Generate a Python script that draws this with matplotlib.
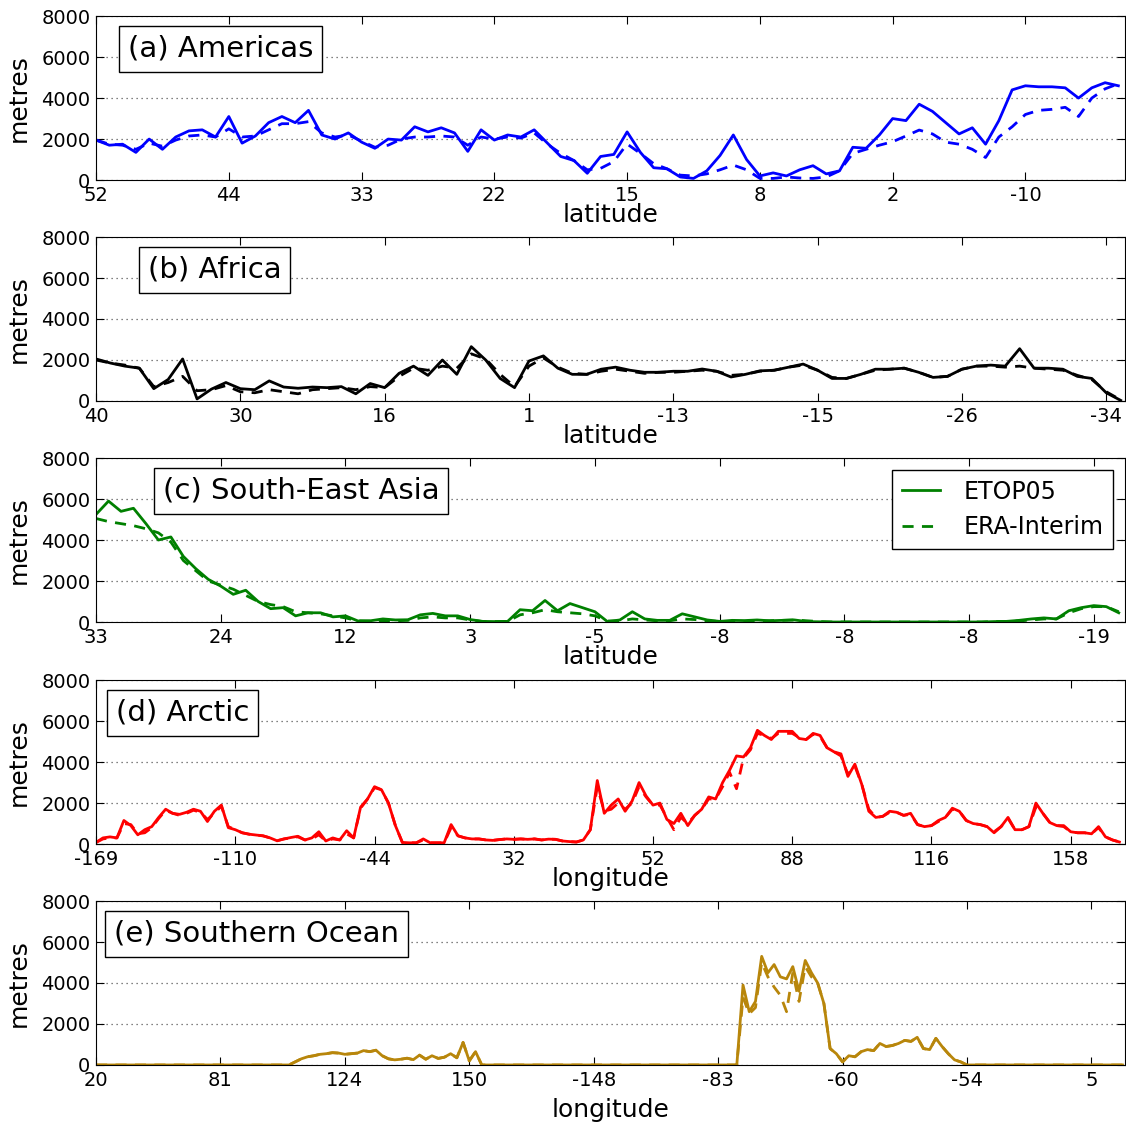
import numpy as np
import matplotlib
matplotlib.use("Agg")
import matplotlib.pyplot as plt

# ---- data: elevation along each transect (metres), sampled uniformly ----
# x axis is distance along transect in "tick units" (one tick label per unit)

# (a) Americas, step 0.1
a_labels = ["52", "44", "33", "22", "15", "8", "2", "-10"]
a_etopo = [1950, 1700, 1750, 1350, 2000, 1500, 2100, 2400, 2450, 2100, 3100, 1800, 2150, 2800, 3100, 2800,
           3400, 2200, 2000, 2300, 1850, 1550, 2000, 1950, 2600, 2350, 2550, 2300, 1400, 2450, 1950, 2200,
           2100, 2450, 1800, 1150, 950, 330,
           1150, 1250, 2350, 1350, 600, 550, 150, 80, 450, 1200, 2200, 1000, 200, 350, 200, 500, 700, 300,
           450, 1600, 1550, 2200, 3000, 2900, 3700, 3350, 2800, 2250, 2550, 1750, 2900, 4400, 4600, 4550,
           4550, 4500, 4000, 4500, 4750, 4600]
a_era = [1950, 1750, 1700, 1500, 1800, 1650, 1950, 2150, 2200, 2100, 2500, 2100, 2150, 2450, 2750, 2750,
         2850, 2300, 2100, 2200, 1900, 1600, 1700, 2000, 2100, 2100, 2150, 2100, 1700, 2100, 2000, 2100,
         2050, 2300, 1750, 1300, 950, 500,
         570, 900, 1760, 1300, 800, 550, 240, 200, 300, 500, 730, 500, 80, 80, 150, 100, 80, 150,
         450, 1300, 1500, 1700, 1870, 2150, 2440, 2250, 1850, 1750, 1500, 1100, 2100, 2600, 3200, 3400,
         3450, 3550, 3100, 4000, 4450, 4700]

# (b) Africa, step 0.1
b_labels = ["40", "30", "16", "1", "-13", "-15", "-26", "-34"]
b_etopo = [2050, 1850, 1700, 1600, 600, 1050, 2050, 100, 580, 900, 600, 550, 980, 680, 620, 680,
           650, 700, 350, 850, 650, 1350, 1700, 1250, 2000, 1300, 2650, 2000, 1100, 650, 1950, 2200,
           1600, 1300, 1300, 1550, 1650, 1500, 1400, 1400, 1450, 1450, 1560, 1450, 1170, 1300, 1470, 1500,
           1650, 1800, 1500, 1100, 1100, 1300, 1550, 1550, 1600, 1400, 1150, 1200, 1550, 1700, 1750, 1700,
           2550, 1600, 1600, 1550, 1200, 1100, 400, 30]
b_era = [2000, 1850, 1750, 1600, 700, 900, 1200, 500, 550, 750, 450, 400, 550, 450, 350, 550,
         600, 650, 550, 700, 650, 1200, 1600, 1500, 1700, 1600, 2300, 2050, 1300, 700, 1700, 2100,
         1650, 1350, 1300, 1450, 1550, 1450, 1350, 1400, 1400, 1450, 1500, 1450, 1250, 1300, 1450, 1500,
         1650, 1750, 1500, 1150, 1100, 1300, 1500, 1550, 1600, 1400, 1150, 1200, 1550, 1700, 1700, 1650,
         1700, 1600, 1550, 1500, 1250, 1050, 450, 50]

# (c) South-East Asia, step 0.1
c_labels = ["33", "24", "12", "3", "-5", "-8", "-8", "-8", "-19"]
c_etopo = [5250, 5900, 5400, 5550, 4800, 4000, 4150, 3200, 2600, 2080, 1750, 1350, 1550, 1000, 650, 700,
           300, 450, 450, 250, 300, 50, 60, 150, 100, 110, 350, 420, 300, 300, 120, 30, 20, 30, 600, 550,
           1050, 550, 900, 700, 500,
           20, 100, 500, 150, 80, 80, 400, 250, 100, 30, 80, 70, 100, 60, 80, 100, 20, 10,
           0, 0, 0, 0, 0, 0, 0, 0, 0, 0, 0, 0, 0,
           20, 30, 80, 150, 200, 150, 550, 700, 800, 750, 450]
c_era = [5050, 4900, 4800, 4700, 4550, 4350, 3900, 3000, 2500, 2000, 1800, 1600, 1300, 1000, 850, 750,
         500, 450, 400, 300, 200, 60, 40, 60, 60, 80, 200, 250, 200, 200, 100, 20, 20, 30, 350, 450,
         600, 500, 450, 400, 300,
         50, 50, 150, 100, 60, 60, 150, 120, 50, 30, 20, 20, 40, 60, 80, 100, 60, 20,
         0, 0, 0, 0, 0, 0, 0, 0, 0, 0, 0, 0, 0,
         20, 30, 50, 100, 150, 150, 450, 650, 750, 750, 500]

# (d) Arctic, step 0.05
d_labels = ["-169", "-110", "-44", "32", "52", "88", "116", "158"]
d_etopo = [80, 300, 350, 300, 1150, 900, 450, 700, 850, 1300, 1700, 1500, 1450, 1550, 1700, 1600,
           1100, 1600, 1900, 800, 700, 550, 480, 440, 400, 300, 160, 250, 320, 380, 200, 300,
           600, 150, 300, 200, 650, 300, 1800, 2200, 2800, 2650, 2000, 900, 80, 60, 60, 250,
           60, 60, 60, 950, 400, 300, 250, 250, 200, 180, 220, 250, 230, 250, 230, 250, 200, 240,
           230, 150, 120, 100, 200,
           700, 3100, 1500, 1900, 2200, 1600, 2100, 3000, 2350, 1900, 2000, 1200, 1000, 1500, 900, 1400,
           1700, 2300, 2200, 3000, 3600, 4300, 4250, 4700, 5550, 5300, 5100, 5500, 5500, 5500, 5150, 5100,
           5400, 5300, 4700, 4500, 4400, 3300, 3900, 2900, 1600, 1300, 1350, 1600, 1550, 1400, 1500, 950,
           850, 900, 1150, 1300, 1750, 1600, 1150, 1000, 950, 850, 550, 850, 1300, 700, 700, 850,
           2000, 1500, 1050, 900, 900, 600, 550, 550, 500, 850, 350, 200, 100]
d_era = [80, 250, 300, 300, 1000, 950, 500, 550, 800, 1250, 1650, 1500, 1400, 1500, 1650, 1550,
         1200, 1500, 1850, 850, 700, 550, 480, 440, 400, 300, 160, 250, 300, 350, 200, 250,
         450, 150, 250, 200, 500, 300, 1750, 2200, 2750, 2650, 2000, 900, 80, 60, 60, 200,
         60, 60, 60, 800, 400, 300, 250, 250, 200, 180, 220, 250, 230, 250, 230, 250, 200, 240,
         230, 150, 120, 100, 200,
         700, 2800, 1600, 1700, 2000, 1700, 2000, 2800, 2300, 1900, 1900, 1300, 700, 1300, 1000, 1400,
         1700, 2200, 2200, 2800, 3500, 2700, 4200, 4600, 5400, 5300, 5150, 5400, 5400, 5400, 5200, 5100,
         5350, 5250, 4700, 4500, 4300, 3400, 3800, 2900, 1700, 1300, 1350, 1550, 1550, 1400, 1450, 950,
         850, 900, 1100, 1300, 1700, 1600, 1150, 1000, 950, 850, 600, 850, 1250, 700, 700, 850,
         1800, 1500, 1050, 900, 850, 600, 550, 550, 500, 800, 350, 200, 100]

# (e) Southern Ocean, step 0.05 (long runs of open ocean at zero)
e_labels = ["20", "81", "124", "150", "-148", "-83", "-60", "-54", "5"]
e_etopo = ([0] * 32
           + [150, 300, 400, 450, 520, 550, 600, 580, 520, 550, 580, 700, 650, 720, 450, 300,
              250, 280, 330, 260, 480, 280, 450, 320, 380, 550, 350, 1100, 200, 650]
           + [0] * 42
           + [3900, 2600, 3100, 5300, 4500, 4900, 4300, 4200, 4800, 3600, 5100, 4500, 4000, 3000, 800, 550,
              150, 450, 400, 650, 750, 700, 1050, 900, 950, 1050, 1200, 1150, 1350, 800, 750, 1300,
              900, 550, 250, 150]
           + [0] * 26)
e_era = ([0] * 32
         + [150, 300, 400, 450, 520, 550, 600, 580, 520, 550, 580, 700, 650, 720, 450, 300,
            250, 280, 330, 260, 480, 280, 450, 320, 380, 550, 350, 1100, 200, 650]
         + [0] * 42
         + [3300, 2500, 2800, 5000, 4300, 3800, 3400, 2600, 4500, 3100, 4800, 4300, 4000, 3000, 800, 550,
            150, 450, 400, 650, 750, 700, 1050, 900, 950, 1050, 1200, 1150, 1350, 800, 750, 1300,
            900, 550, 250, 150]
         + [0] * 26)

panels = [
    # title, xlabel, tick labels, etopo, era, sample step, x extent, colour, title x
    ("(a) Americas", "latitude", a_labels, a_etopo, a_era, 0.1, 7.75, "#0000ff", 0.031),
    ("(b) Africa", "latitude", b_labels, b_etopo, b_era, 0.1, 7.13, "black", 0.0505),
    ("(c) South-East Asia", "latitude", c_labels, c_etopo, c_era, 0.1, 8.25, "#008000", 0.065),
    ("(d) Arctic", "longitude", d_labels, d_etopo, d_era, 0.05, 7.39, "#ff0000", 0.0194),
    ("(e) Southern Ocean", "longitude", e_labels, e_etopo, e_era, 0.05, 8.27, "#b8860b", 0.0175),
]
bottoms = [0.8401, 0.6439, 0.4476, 0.2504, 0.0542]

plt.rcParams["font.family"] = "DejaVu Sans"

fig = plt.figure(figsize=(11.26, 11.26), dpi=100)
for (title, xlab, labels, etopo, era, step, xmax, col, tx), bot in zip(panels, bottoms):
    ax = fig.add_axes([0.0853, bot, 0.9138, 0.1456])
    x = np.arange(len(etopo)) * step
    ax.plot(x, etopo, color=col, lw=2, label="ETOP05")
    ax.plot(np.arange(len(era)) * step, era, color=col, lw=2, ls=(0, (4, 3)), label="ERA-Interim")
    ax.set_xlim(0, xmax)
    ax.set_ylim(0, 8000)
    ax.set_yticks([0, 2000, 4000, 6000, 8000])
    ax.set_xticks(np.arange(len(labels)))
    ax.set_xticklabels(labels)
    ax.yaxis.grid(True, linestyle=(0, (1, 3)), color="0.35", lw=0.9)
    ax.tick_params(direction="in", top=True, right=True, length=6, labelsize=14, pad=4)
    ax.set_ylabel("metres", fontsize=18, labelpad=8)
    ax.set_xlabel(xlab, fontsize=18, labelpad=6 if title.startswith("(e)") else -1)
    ax.text(tx, 0.80, title, transform=ax.transAxes, fontsize=21, ha="left", va="center",
            bbox=dict(boxstyle="square,pad=0.3", fc="white", ec="black", lw=1))
    if title.startswith("(c)"):
        ax.legend(loc="upper right", bbox_to_anchor=(0.988, 0.926), borderaxespad=0,
                  fancybox=False, edgecolor="black", framealpha=1, handlelength=1.6,
                  handletextpad=1.0, fontsize=17)

fig.savefig("out.png", dpi=100, facecolor="white")
